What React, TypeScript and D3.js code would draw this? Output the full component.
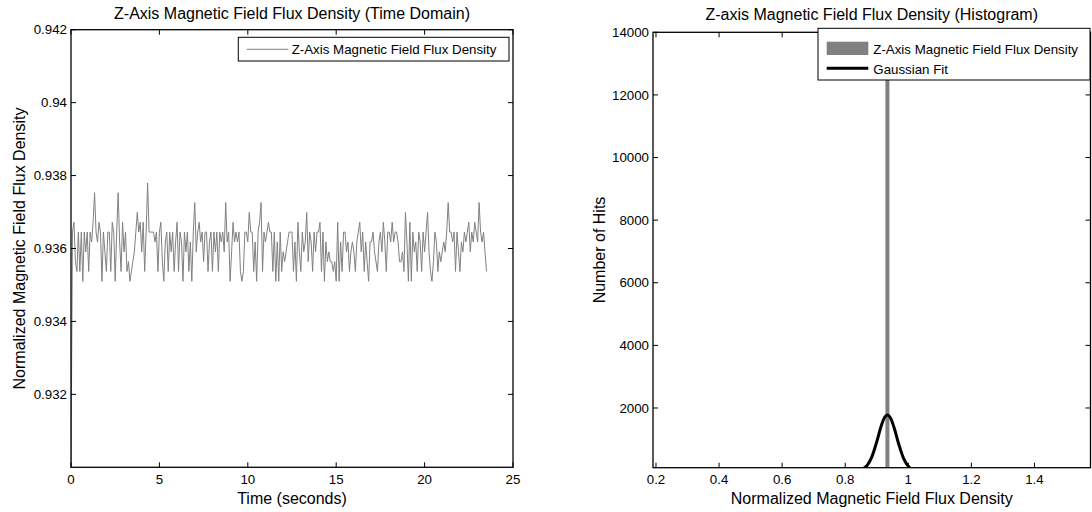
import React from "react";
import * as d3 from "d3";

const SAMPLE_RATE = 12; // samples per second
const fluxValues: number[] = [
  0.93000, 0.93645, 0.93672, 0.93564, 0.93537, 0.93645, 0.93537, 0.93645, 0.93510, 0.93645, 0.93591, 0.93645,
  0.93537, 0.93645, 0.93618, 0.93672, 0.93753, 0.93645, 0.93618, 0.93672, 0.93645, 0.93510, 0.93645, 0.93591,
  0.93537, 0.93645, 0.93645, 0.93537, 0.93672, 0.93645, 0.93510, 0.93645, 0.93753, 0.93618, 0.93537, 0.93672,
  0.93591, 0.93645, 0.93537, 0.93564, 0.93510, 0.93537, 0.93564, 0.93591, 0.93645, 0.93699, 0.93645, 0.93672,
  0.93591, 0.93672, 0.93537, 0.93645, 0.93780, 0.93645, 0.93645, 0.93645, 0.93645, 0.93618, 0.93645, 0.93537,
  0.93645, 0.93672, 0.93564, 0.93510, 0.93618, 0.93645, 0.93537, 0.93645, 0.93591, 0.93645, 0.93537, 0.93618,
  0.93672, 0.93537, 0.93645, 0.93618, 0.93510, 0.93645, 0.93591, 0.93645, 0.93537, 0.93618, 0.93510, 0.93645,
  0.93726, 0.93591, 0.93645, 0.93672, 0.93618, 0.93645, 0.93564, 0.93645, 0.93645, 0.93537, 0.93618, 0.93645,
  0.93537, 0.93645, 0.93591, 0.93645, 0.93537, 0.93645, 0.93618, 0.93645, 0.93591, 0.93726, 0.93618, 0.93645,
  0.93510, 0.93591, 0.93672, 0.93618, 0.93645, 0.93618, 0.93645, 0.93537, 0.93510, 0.93537, 0.93645, 0.93645,
  0.93618, 0.93699, 0.93645, 0.93645, 0.93537, 0.93618, 0.93510, 0.93645, 0.93672, 0.93726, 0.93537, 0.93645,
  0.93618, 0.93645, 0.93672, 0.93645, 0.93645, 0.93537, 0.93645, 0.93510, 0.93618, 0.93510, 0.93645, 0.93537,
  0.93591, 0.93564, 0.93591, 0.93618, 0.93645, 0.93645, 0.93645, 0.93537, 0.93618, 0.93510, 0.93672, 0.93591,
  0.93537, 0.93645, 0.93591, 0.93618, 0.93699, 0.93564, 0.93645, 0.93618, 0.93537, 0.93645, 0.93591, 0.93645,
  0.93645, 0.93672, 0.93537, 0.93645, 0.93510, 0.93618, 0.93564, 0.93591, 0.93564, 0.93564, 0.93537, 0.93564,
  0.93510, 0.93672, 0.93510, 0.93618, 0.93537, 0.93645, 0.93645, 0.93591, 0.93618, 0.93537, 0.93591, 0.93618,
  0.93591, 0.93537, 0.93618, 0.93645, 0.93672, 0.93591, 0.93645, 0.93537, 0.93618, 0.93564, 0.93510, 0.93618,
  0.93618, 0.93645, 0.93591, 0.93564, 0.93537, 0.93618, 0.93645, 0.93591, 0.93672, 0.93618, 0.93537, 0.93645,
  0.93645, 0.93618, 0.93672, 0.93618, 0.93645, 0.93645, 0.93618, 0.93564, 0.93564, 0.93591, 0.93537, 0.93699,
  0.93618, 0.93510, 0.93672, 0.93510, 0.93645, 0.93591, 0.93618, 0.93537, 0.93645, 0.93618, 0.93537, 0.93645,
  0.93591, 0.93645, 0.93699, 0.93591, 0.93537, 0.93510, 0.93564, 0.93645, 0.93618, 0.93537, 0.93591, 0.93564,
  0.93591, 0.93618, 0.93591, 0.93645, 0.93726, 0.93645, 0.93645, 0.93618, 0.93645, 0.93537, 0.93645, 0.93591,
  0.93537, 0.93618, 0.93591, 0.93645, 0.93618, 0.93645, 0.93672, 0.93591, 0.93645, 0.93618, 0.93672, 0.93645,
  0.93618, 0.93726, 0.93645, 0.93618, 0.93645, 0.93591, 0.93537,
];
const timeTicks = [0, 5, 10, 15, 20, 25];
const fluxTicks = [0.932, 0.934, 0.936, 0.938, 0.94, 0.942];

const histCenters = [0.9337];
const histCounts = [13900];
const gaussX = [0.856, 0.87, 0.885, 0.9, 0.915, 0.925, 0.9337, 0.945, 0.955, 0.97, 0.985, 1.0, 1.005];
const gaussY = [55, 173, 455, 926, 1456, 1704, 1780, 1654, 1371, 835, 392, 142, 96];
const histXTicks = [0.2, 0.4, 0.6, 0.8, 1.0, 1.2, 1.4];
const histYTicks = [2000, 4000, 6000, 8000, 10000, 12000, 14000];

const FONT = "'Liberation Sans', Arial, Helvetica, sans-serif";
const TICK = 5;

function Frame({ x0, x1, y0, y1, xTicks, yTicks, xs, ys, xFmt, yFmt }: any) {
  return (
    <g>
      <rect x={x0} y={y0} width={x1 - x0} height={y1 - y0} fill="none" stroke="#000" strokeWidth={1.3} />
      {xTicks.map((t: number, i: number) => (
        <g key={"x" + i}>
          <line x1={xs(t)} x2={xs(t)} y1={y1} y2={y1 - TICK} stroke="#000" strokeWidth={1} />
          <line x1={xs(t)} x2={xs(t)} y1={y0} y2={y0 + TICK} stroke="#000" strokeWidth={1} />
          <text x={xs(t)} y={y1 + 16.5} textAnchor="middle" fontSize={13.3} fontFamily={FONT}>{xFmt(t)}</text>
        </g>
      ))}
      {yTicks.map((t: number, i: number) => (
        <g key={"y" + i}>
          <line x1={x0} x2={x0 + TICK} y1={ys(t)} y2={ys(t)} stroke="#000" strokeWidth={1} />
          <line x1={x1} x2={x1 - TICK} y1={ys(t)} y2={ys(t)} stroke="#000" strokeWidth={1} />
          <text x={x0 - 4} y={ys(t) + 4.7} textAnchor="end" fontSize={13.3} fontFamily={FONT}>{yFmt(t)}</text>
        </g>
      ))}
    </g>
  );
}

export default function App() {
  // Left: time domain
  const L = { x0: 71, x1: 513, y0: 29.7, y1: 467.3 };
  const xL = d3.scaleLinear().domain([0, 25]).range([L.x0, L.x1]);
  const yL = d3.scaleLinear().domain([0.93, 0.942]).range([L.y1, L.y0]);
  const linePath = d3
    .line<number>()
    .x((_, i) => xL(i / SAMPLE_RATE))
    .y((d) => yL(d))(fluxValues) as string;

  // Right: histogram
  const R = { x0: 653, x1: 1090.5, y0: 32.3, y1: 467.7 };
  const xR = d3.scaleLinear().domain([0.1905, 1.5776]).range([R.x0, R.x1]);
  const yR = d3.scaleLinear().domain([93, 14000]).range([R.y1, R.y0]);
  const gaussPath = d3
    .line<number>()
    .x((d) => xR(d))
    .y((_, i) => yR(gaussY[i]))
    .curve(d3.curveMonotoneX)(gaussX) as string;

  const fmt = (v: number) => String(+v.toFixed(4));

  return (
    <svg width={1092} height={512} style={{ position: "absolute", left: 0, top: 0, background: "#fff" }}>
      <rect x={0} y={0} width={1092} height={512} fill="#fff" />
      <defs>
        <clipPath id="clipL"><rect x={L.x0} y={L.y0} width={L.x1 - L.x0} height={L.y1 - L.y0} /></clipPath>
        <clipPath id="clipR"><rect x={R.x0} y={R.y0} width={R.x1 - R.x0} height={R.y1 - R.y0} /></clipPath>
      </defs>

      {/* Left plot */}
      <text x={(L.x0 + L.x1) / 2} y={19.3} textAnchor="middle" fontSize={16} fontFamily={FONT}>
        Z-Axis Magnetic Field Flux Density (Time Domain)
      </text>
      <g clipPath="url(#clipL)">
        <path d={linePath} fill="none" stroke="#808080" strokeWidth={1} />
      </g>
      <Frame x0={L.x0} x1={L.x1} y0={L.y0} y1={L.y1} xTicks={timeTicks} yTicks={fluxTicks} xs={xL} ys={yL} xFmt={fmt} yFmt={fmt} />
      <text x={(L.x0 + L.x1) / 2} y={503.5} textAnchor="middle" fontSize={16} fontFamily={FONT}>Time (seconds)</text>
      <text transform={`translate(24.5,${(L.y0 + L.y1) / 2}) rotate(-90)`} textAnchor="middle" fontSize={16} fontFamily={FONT}>
        Normalized Magnetic Field Flux Density
      </text>
      <g>
        <rect x={238.3} y={37.3} width={270.7} height={23.7} fill="#fff" stroke="#000" strokeWidth={1} />
        <line x1={246.7} x2={288.3} y1={49.3} y2={49.3} stroke="#808080" strokeWidth={1} />
        <text x={291.7} y={54} fontSize={13.3} fontFamily={FONT}>Z-Axis Magnetic Field Flux Density</text>
      </g>

      {/* Right plot */}
      <text x={(R.x0 + R.x1) / 2} y={20} textAnchor="middle" fontSize={16} fontFamily={FONT}>
        Z-axis Magnetic Field Flux Density (Histogram)
      </text>
      <g clipPath="url(#clipR)">
        {histCenters.map((c, i) => (
          <rect key={i} x={xR(c) - 2} y={yR(histCounts[i])} width={4} height={R.y1 - yR(histCounts[i])} fill="#808080" />
        ))}
        <path d={gaussPath} fill="none" stroke="#000" strokeWidth={3} />
      </g>
      <Frame x0={R.x0} x1={R.x1} y0={R.y0} y1={R.y1} xTicks={histXTicks} yTicks={histYTicks} xs={xR} ys={yR} xFmt={fmt} yFmt={fmt} />
      <text x={(R.x0 + R.x1) / 2} y={503.5} textAnchor="middle" fontSize={16} fontFamily={FONT}>
        Normalized Magnetic Field Flux Density
      </text>
      <text transform={`translate(605,${(R.y0 + R.y1) / 2}) rotate(-90)`} textAnchor="middle" fontSize={16} fontFamily={FONT}>
        Number of Hits
      </text>
      <g>
        <rect x={818} y={28.3} width={272} height={51.7} fill="#fff" stroke="#000" strokeWidth={1} />
        <rect x={826.7} y={41.7} width={41.6} height={13.3} fill="#808080" />
        <text x={873.3} y={54} fontSize={13.3} fontFamily={FONT}>Z-Axis Magnetic Field Flux Density</text>
        <line x1={826.7} x2={868.3} y1={68.3} y2={68.3} stroke="#000" strokeWidth={3} />
        <text x={873.3} y={74} fontSize={13.3} fontFamily={FONT}>Gaussian Fit</text>
      </g>
    </svg>
  );
}
